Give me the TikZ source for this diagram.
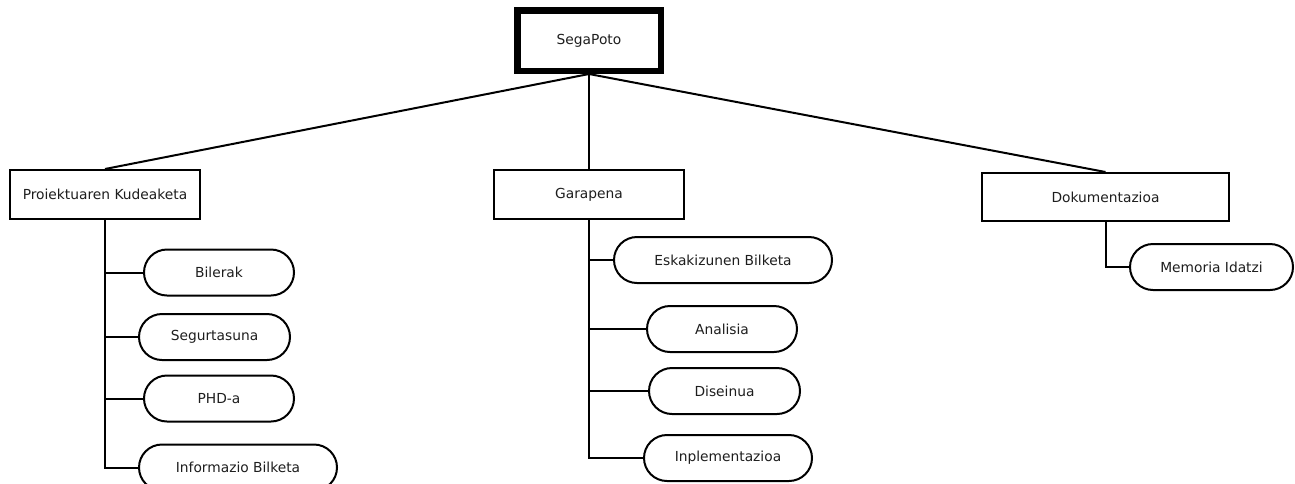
\documentclass[tikz,border=0pt]{standalone}
\usepackage{fontspec}
\setmainfont{DejaVu Sans}
\usetikzlibrary{shapes.misc}
\definecolor{txt}{RGB}{30,30,30}
\begin{document}
\begin{tikzpicture}[x=1pt,y=-1pt,
  every node/.style={font=\fontsize{13.8}{16}\selectfont, text=txt, inner sep=0pt},
  rootbox/.style={draw, line width=6.5pt, fill=white, minimum width=143.5pt, minimum height=60.5pt},
  areabox/.style={draw, line width=2pt, fill=white, minimum height=49pt},
  taskpill/.style={draw, line width=2pt, fill=white, rounded rectangle, minimum height=46pt},
  link/.style={line width=2pt}]
\useasboundingbox (0,0) rectangle (1295,483);

% root and the three work areas
\node[rootbox] (root) at (589,40.5) {SegaPoto};
\node[areabox, minimum width=190pt] (pk) at (105,194.5) {Proiektuaren Kudeaketa};
\node[areabox, minimum width=190pt] (gar) at (589,194.5) {Garapena};
\node[areabox, minimum width=247pt, minimum height=48pt] (dok) at (1105.5,197) {Dokumentazioa};

% tasks of each area
\node[taskpill, minimum width=150pt] (bil) at (219,272.5) {Bilerak};
\node[taskpill, minimum width=151pt] (seg) at (214.5,337) {Segurtasuna};
\node[taskpill, minimum width=150pt] (phd) at (219,398.5) {PHD-a};
\node[taskpill, minimum width=198pt] (inf) at (238,467.5) {Informazio Bilketa};

\node[taskpill, minimum width=218pt] (esk) at (723,260) {Eskakizunen Bilketa};
\node[taskpill, minimum width=150pt] (ana) at (722,329) {Analisia};
\node[taskpill, minimum width=151pt] (dis) at (724.5,391) {Diseinua};
\node[taskpill, minimum width=168pt] (inp) at (728,458) {Inplementazioa};

\node[taskpill, minimum width=163pt] (mem) at (1211.5,267) {Memoria Idatzi};

% connectors: root to areas
\draw[link] (root.south) -- (pk.north);
\draw[link] (root.south) -- (gar.north);
\draw[link] (root.south) -- (dok.north);

% connectors: areas to their tasks
\draw[link] (pk.south) |- (bil.west);
\draw[link] (pk.south) |- (seg.west);
\draw[link] (pk.south) |- (phd.west);
\draw[link] (pk.south) |- (inf.west);

\draw[link] (gar.south) |- (esk.west);
\draw[link] (gar.south) |- (ana.west);
\draw[link] (gar.south) |- (dis.west);
\draw[link] (gar.south) |- (inp.west);

\draw[link] (dok.south) |- (mem.west);
\end{tikzpicture}
\end{document}
